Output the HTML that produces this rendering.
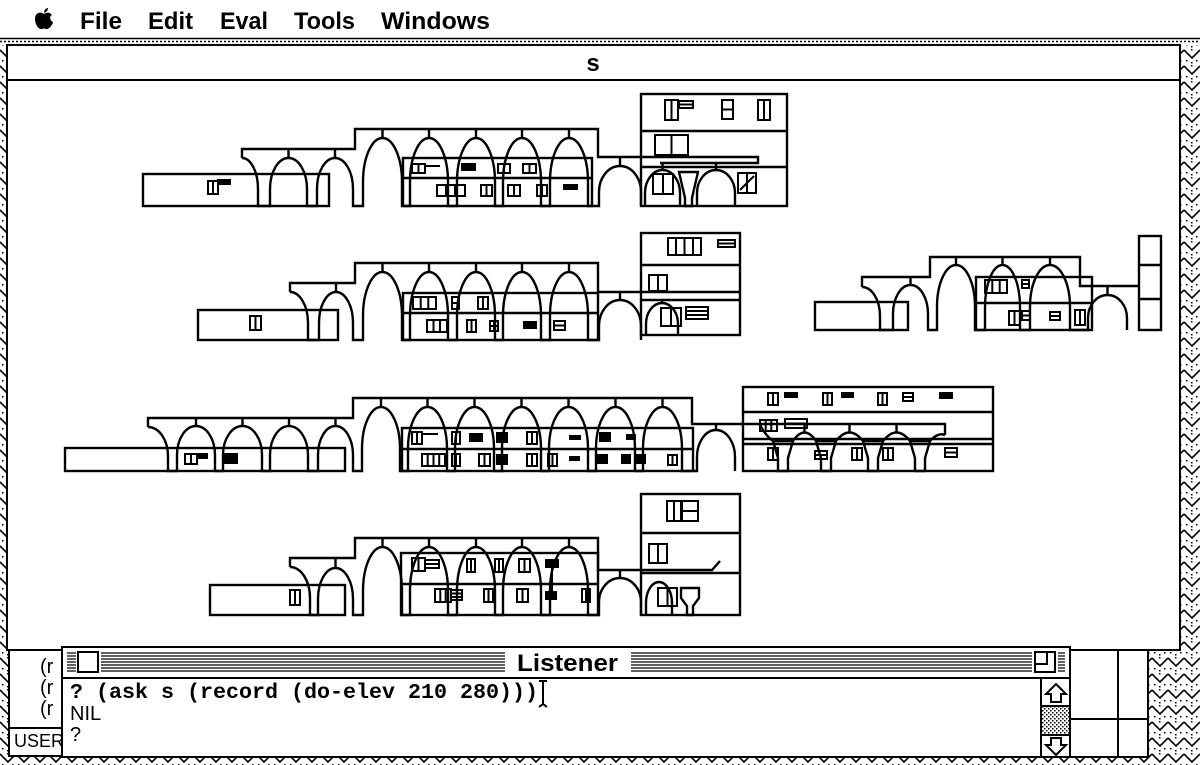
<!DOCTYPE html>
<html><head><meta charset="utf-8"><style>
html,body{margin:0;padding:0;background:#fff;width:1200px;height:765px;overflow:hidden}
svg{display:block}
</style></head><body>
<svg width="1200" height="765" viewBox="0 0 1200 765" xmlns="http://www.w3.org/2000/svg">
<defs>
<pattern id="zz" width="16" height="16" patternUnits="userSpaceOnUse">
<rect width="16" height="16" fill="#fff"/>
<path d="M0,2 L8,10 L16,2" fill="none" stroke="#000" stroke-width="1.6"/>
<rect x="7" y="1" width="1.5" height="1.5"/><rect x="2" y="12" width="1.5" height="1.5"/>
<rect x="12" y="12" width="1.5" height="1.5"/><rect x="7" y="14" width="1.5" height="1.5"/>
</pattern>
<pattern id="gr" width="4" height="4" patternUnits="userSpaceOnUse">
<rect width="4" height="4" fill="#fff"/><rect width="1.5" height="1.5"/><rect x="2" y="2" width="1.5" height="1.5"/>
</pattern>
</defs>

<!-- desktop -->
<rect width="1200" height="765" fill="url(#zz)"/>
<rect width="1200" height="37" fill="#fff"/>
<rect y="37" width="1200" height="8" fill="#fff"/>
<path d="M0,38.5H1200" stroke="#000" stroke-width="1.5"/>
<path d="M0,41.5H1200" stroke="#000" stroke-width="1.5" stroke-dasharray="2 2"/>

<!-- menu -->
<path d="M44,14 C40,11 35,13 35,19 C35,25 39,30 42,29 C43,28.5 45,28.5 46,29 C49,30 53,24 53,22 C50,21 49,16 52,15 C50,12 47,12 44,14 Z M44,13 C44,10 46,8 48,8 C48,11 46,12 44,13 Z" fill="#000"/>
<g font-family="'Liberation Sans', sans-serif" font-weight="bold" font-size="24" fill="#000">
<text x="80" y="29" textLength="42" lengthAdjust="spacingAndGlyphs">File</text>
<text x="148" y="29" textLength="45" lengthAdjust="spacingAndGlyphs">Edit</text>
<text x="220" y="29" textLength="48" lengthAdjust="spacingAndGlyphs">Eval</text>
<text x="294" y="29" textLength="61" lengthAdjust="spacingAndGlyphs">Tools</text>
<text x="381" y="29" textLength="109" lengthAdjust="spacingAndGlyphs">Windows</text>
</g>

<!-- main window -->
<rect x="7" y="45" width="1173" height="605" fill="#fff" stroke="#000" stroke-width="2"/>
<path d="M7,80H1180" stroke="#000" stroke-width="2"/>
<text x="593" y="71" text-anchor="middle" font-family="'Liberation Sans', sans-serif" font-weight="bold" font-size="24">s</text>

<!-- elevations -->
<g fill="none" stroke="#000" stroke-width="2.4">
<!-- E1 -->
<rect x="143" y="174" width="186" height="32"/>
<path d="M242,158 V149 H355 V129 H598 V157 H758 V163 H660"/>
<path d="M242,158 A16,31 0 0 1 258,189 V206 H270 V189 A18.5,31 0 0 1 307,189 V206 H317 V189 A18,31 0 0 1 353,189 V206 H363 V182 A19.5,44 0 0 1 402,182 V206 H410 V182 A19,44 0 0 1 448,182 V206 H457 V182 A19,44 0 0 1 495,182 V206 H503 V182 A19,44 0 0 1 541,182 V206 H550 V182 A19,44 0 0 1 588,182 V206 H599 V192 A21,26 0 0 1 641,192 V206"/>
<path d="M288.5,149V158M335,149V158M382.5,129V138M429,129V138M476,129V138M522,129V138M569,129V138M620,157V166"/>
<rect x="403" y="158" width="189" height="48"/><path d="M403,178H592"/>
<rect x="641" y="94" width="146" height="112"/><path d="M641,131H787M641,167H787"/>
<path d="M645,206 V193 A17.5,23 0 0 1 680,193 V206 M697,206 V193 A19,23 0 0 1 735,193 V206 M662.5,163V170 M716,163V170 M679,172H698L692,198V206H685V198Z"/>

<!-- E2 -->
<rect x="198" y="310" width="140" height="30"/>
<path d="M290,292 V283 H355 V263 H598 V292 H740"/>
<path d="M290,292 A18,31 0 0 1 308,323 V340 H319 V323 A17,31 0 0 1 353,323 V340 H363 V316 A19.5,44 0 0 1 402,316 V340 H410 V316 A19,44 0 0 1 448,316 V340 H457 V316 A19,44 0 0 1 495,316 V340 H503 V316 A19,44 0 0 1 541,316 V340 H550 V316 A19,44 0 0 1 588,316 V340 H599 V326 A21,26 0 0 1 641,326 V340"/>
<path d="M336,283V292M382.5,263V272M429,263V272M476,263V272M522,263V272M569,263V272M620,292V300"/>
<rect x="403" y="293" width="195" height="47"/><path d="M403,313H598"/>
<rect x="641" y="233" width="99" height="102"/><path d="M641,265H740M641,300H740"/>
<path d="M646,335 V324 A16,21 0 0 1 678,324 V335 M662,300V303"/>

<!-- E3 -->
<rect x="815" y="302" width="93" height="28"/>
<path d="M862,287 V277 H930 V257 H1080 V286 H1139"/>
<path d="M862,287 A18,29 0 0 1 880,316 V330 H893 V314 A17.5,29 0 0 1 928,314 V330 H937 V307 A19,42 0 0 1 975,307 V330 H985 V307 A17.5,42 0 0 1 1020,307 V330 H1030 V307 A20,42 0 0 1 1070,307 V330 H1088 V318 A19.5,23 0 0 1 1127,318 V330"/>
<path d="M910.5,277V285M956,257V265M1002.5,257V265M1050,257V265M1107.5,286V295"/>
<rect x="976" y="277" width="116" height="53"/><path d="M976,303H1092"/>
<rect x="1139" y="236" width="22" height="94"/><path d="M1139,265H1161M1139,299H1161"/>

<!-- E4 -->
<rect x="65" y="448" width="280" height="23"/>
<path d="M148,427 V418 H353 V398 H692 V424 H945 V435"/>
<path d="M148,427 A20,29 0 0 1 168,456 V471 H177 V455 A19,29 0 0 1 215,455 V471 H223 V455 A19.5,29 0 0 1 262,455 V471 H270 V455 A19,29 0 0 1 308,455 V471 H318 V455 A17.5,29 0 0 1 353,455 V471 H362 V449 A19,42 0 0 1 400,449 V471 H408 V449 A19.5,42 0 0 1 447,449 V471 H455 V449 A19.5,42 0 0 1 494,449 V471 H502 V449 A19.5,42 0 0 1 541,449 V471 H549 V449 A19.5,42 0 0 1 588,449 V471 H596 V449 A19.5,42 0 0 1 635,449 V471 H643 V449 A19.5,42 0 0 1 682,449 V471 H697 V457 A19,27 0 0 1 735,457 V471"/>
<path d="M196,418V426M242.5,418V426M289,418V426M335.5,418V426M381,398V407M427.5,398V407M474.5,398V407M521.5,398V407M568.5,398V407M615.5,398V407M662.5,398V407M716,424V430"/>
<rect x="402" y="428" width="291" height="43"/><path d="M402,449H693"/>
<rect x="743" y="387" width="250" height="84"/><path d="M743,412H993M743,439H993M743,444H993"/>
<path d="M773,441H793L788,458V471H778V458Z M816,441H836L831,458V471H821V458Z M863,441H883L878,458V471H868V458Z M910,441H930L925,458V471H915V458Z"/>
<path d="M793,441 Q804.5,424 816,441 M836,441 Q849.5,424 863,441 M883,441 Q896.5,424 910,441 M930,441 Q938,432 945,435 M760,425 Q766,436 773,441 M804.5,425V432 M849.5,425V432 M896.5,425V432"/>

<!-- E5 -->
<rect x="210" y="585" width="135" height="30"/>
<path d="M290,567 V558 H355 V538 H598 V570 H712 L720,561"/>
<path d="M290,567 A20,31 0 0 1 310,598 V615 H318 V599 A17.5,31 0 0 1 353,599 V615 H363 V591 A19.5,44 0 0 1 402,591 V615 H410 V591 A19,44 0 0 1 448,591 V615 H457 V591 A19,44 0 0 1 495,591 V615 H503 V591 A19,44 0 0 1 541,591 V615 H550 V591 A19,44 0 0 1 588,591 V615 H599 V602 A21,24 0 0 1 641,602 V615"/>
<path d="M335.5,558V568M382.5,538V547M429,538V547M476,538V547M522,538V547M569,538V547M620,570V578"/>
<rect x="401" y="553" width="197" height="62"/><path d="M401,584H598"/>
<rect x="641" y="494" width="99" height="121"/><path d="M641,533H740M641,573H740"/>
<path d="M646,615 V603 A13,21 0 0 1 672,603 V615 M681,588H699V598L693,606V615H687V606L681,598Z"/>
</g>

<!-- windows -->
<g fill="none" stroke="#000" stroke-width="2">
<!-- E1 -->
<rect x="208" y="181" width="10" height="13"/><path d="M213,181V194"/><rect x="218" y="180" width="12" height="4" fill="#000"/>
<rect x="412" y="164" width="13" height="9"/><path d="M418.5,164V173M425,166H440"/><rect x="462" y="164" width="13" height="6" fill="#000"/><rect x="498" y="164" width="12" height="9"/><path d="M504,164V173"/><rect x="523" y="164" width="13" height="9"/><path d="M529.5,164V173"/>
<rect x="437" y="185" width="28" height="11"/><path d="M446,185V196M455,185V196"/><rect x="481" y="185" width="11" height="11"/><path d="M486.5,185V196"/><rect x="508" y="185" width="12" height="11"/><path d="M514,185V196"/><rect x="537" y="185" width="10" height="11"/><path d="M542,185V196"/><rect x="564" y="185" width="13" height="4" fill="#000"/>
<rect x="665" y="100" width="13" height="20"/><path d="M671.5,100V120"/><rect x="679" y="101" width="14" height="7"/><path d="M679,104.5H693"/><rect x="722" y="100" width="11" height="19"/><path d="M722,109.5H733"/><rect x="758" y="100" width="12" height="20"/><path d="M764,100V120"/>
<rect x="655" y="135" width="33" height="20"/><path d="M671.5,135V155"/>
<rect x="653" y="174" width="20" height="20"/><path d="M663,174V194"/><rect x="738" y="173" width="18" height="20"/><path d="M747,173V193M740,190L754,176"/>
<!-- E2 -->
<rect x="250" y="316" width="11" height="14"/><path d="M255.5,316V330"/>
<rect x="413" y="297" width="23" height="12"/><path d="M420.7,297V309M428.3,297V309"/><rect x="452" y="297" width="7" height="12"/><path d="M452,303H459"/><rect x="478" y="297" width="10" height="12"/><path d="M483,297V309"/>
<rect x="427" y="320" width="20" height="12"/><path d="M433.5,320V332M440,320V332"/><rect x="467" y="320" width="9" height="12"/><path d="M471.5,320V332"/><rect x="490" y="321" width="8" height="10"/><path d="M494,321V331M490,326H498"/><rect x="524" y="322" width="12" height="6" fill="#000"/><rect x="554" y="321" width="11" height="9"/><path d="M554,325.5H565"/>
<rect x="668" y="238" width="33" height="17"/><path d="M676,238V255M684.5,238V255M693,238V255"/><rect x="718" y="240" width="17" height="7"/><path d="M718,243.5H735"/><rect x="649" y="275" width="18" height="16"/><path d="M658,275V291"/><rect x="661" y="308" width="20" height="18"/><path d="M671,308V326"/><rect x="686" y="307" width="22" height="12"/><path d="M686,311H708M686,315H708"/>
<!-- E3 -->
<rect x="985" y="280" width="22" height="13"/><path d="M992.3,280V293M999.7,280V293"/><rect x="1022" y="280" width="7" height="8"/><path d="M1022,284H1029"/><rect x="1009" y="311" width="11" height="14"/><path d="M1014.5,311V325"/><rect x="1022" y="311" width="8" height="9"/><path d="M1022,315.5H1030"/><rect x="1050" y="312" width="10" height="8"/><path d="M1050,316H1060"/><rect x="1075" y="310" width="10" height="15"/><path d="M1080,310V325"/>
<!-- E4 -->
<rect x="185" y="454" width="12" height="10"/><path d="M191,454V464"/><rect x="197" y="454" width="10" height="4" fill="#000"/><rect x="225" y="454" width="12" height="9" fill="#000"/>
<rect x="412" y="432" width="10" height="12"/><path d="M417,432V444M422,434H438"/><rect x="452" y="432" width="8" height="12"/><path d="M456,432V444"/><rect x="470" y="434" width="12" height="7" fill="#000"/><rect x="497" y="433" width="10" height="9" fill="#000"/><rect x="527" y="432" width="10" height="12"/><path d="M532,432V444"/><rect x="570" y="436" width="10" height="3" fill="#000"/><rect x="600" y="433" width="10" height="8" fill="#000"/><rect x="627" y="435" width="8" height="4" fill="#000"/>
<rect x="422" y="454" width="23" height="12"/><path d="M427.7,454V466M433.5,454V466M439.2,454V466"/><rect x="452" y="454" width="8" height="12"/><path d="M456,454V466"/><rect x="479" y="454" width="11" height="12"/><path d="M484.5,454V466"/><rect x="497" y="455" width="10" height="9" fill="#000"/><rect x="527" y="454" width="10" height="12"/><path d="M532,454V466"/><rect x="548" y="454" width="9" height="12"/><path d="M552.5,454V466"/><rect x="570" y="457" width="9" height="3" fill="#000"/><rect x="597" y="455" width="10" height="8" fill="#000"/><rect x="622" y="455" width="8" height="8" fill="#000"/><rect x="637" y="455" width="8" height="8" fill="#000"/><rect x="668" y="455" width="9" height="10"/><path d="M672.5,455V465"/>
<rect x="768" y="393" width="10" height="12"/><path d="M773,393V405"/><rect x="785" y="393" width="12" height="4" fill="#000"/><rect x="823" y="393" width="9" height="12"/><path d="M827.5,393V405"/><rect x="842" y="393" width="11" height="4" fill="#000"/><rect x="878" y="393" width="9" height="12"/><path d="M882.5,393V405"/><rect x="903" y="393" width="10" height="8"/><path d="M903,397H913"/><rect x="940" y="393" width="12" height="5" fill="#000"/>
<rect x="760" y="420" width="17" height="11"/><path d="M765.7,420V431M771.3,420V431"/><rect x="785" y="419" width="22" height="9"/><path d="M785,423.5H807"/>
<rect x="768" y="448" width="10" height="12"/><path d="M773,448V460"/><rect x="815" y="451" width="12" height="8"/><path d="M815,455H827"/><rect x="852" y="448" width="10" height="12"/><path d="M857,448V460"/><rect x="883" y="448" width="10" height="12"/><path d="M888,448V460"/><rect x="945" y="448" width="12" height="9"/><path d="M945,452.5H957"/>
<!-- E5 -->
<rect x="290" y="590" width="10" height="15"/><path d="M295,590V605"/>
<rect x="667" y="501" width="14" height="20"/><path d="M674,501V521"/><rect x="682" y="501" width="16" height="20"/><path d="M682,511H698"/><rect x="649" y="544" width="18" height="19"/><path d="M658,544V563"/><rect x="658" y="588" width="19" height="18"/><path d="M667.5,588V606"/>
<rect x="412" y="558" width="13" height="13"/><path d="M418.5,558V571"/><rect x="425" y="560" width="14" height="8"/><path d="M425,564H439"/><rect x="467" y="559" width="8" height="13"/><path d="M471,559V572"/><rect x="495" y="559" width="8" height="13"/><path d="M499,559V572"/><rect x="519" y="559" width="11" height="13"/><path d="M524.5,559V572"/><rect x="546" y="560" width="12" height="7" fill="#000"/><path d="M552,567V598"/>
<rect x="435" y="589" width="16" height="13"/><path d="M440.3,589V602M445.7,589V602"/><rect x="451" y="590" width="11" height="10"/><path d="M451,593.5H462M451,597H462"/><rect x="484" y="589" width="9" height="13"/><path d="M488.5,589V602"/><rect x="517" y="589" width="11" height="13"/><path d="M522.5,589V602"/><rect x="546" y="592" width="10" height="7" fill="#000"/><rect x="582" y="589" width="8" height="13"/><path d="M586,589V602"/>
</g>

<!-- left background window -->
<rect x="9" y="650" width="53" height="106" fill="#fff" stroke="#000" stroke-width="2"/>
<path d="M9,728H62" stroke="#000" stroke-width="2"/>
<g font-family="'Liberation Sans', sans-serif" font-size="20" fill="#000">
<text x="40" y="673">(r</text>
<text x="40" y="694">(r</text>
<text x="40" y="715">(r</text>
<text x="14" y="747" font-size="18">USER</text>
</g>

<!-- right lower window -->
<rect x="1070" y="650" width="78" height="107" fill="#fff" stroke="#000" stroke-width="2"/>
<path d="M1118,650V757M1070,719H1148" stroke="#000" stroke-width="2"/>

<!-- listener -->
<rect x="62" y="647" width="1008" height="110" fill="#fff" stroke="#000" stroke-width="2"/>
<path d="M67,653H1065M67,656H1065M67,659H1065M67,662H1065M67,665H1065M67,668H1065M67,671H1065" stroke="#000" stroke-width="1.3"/>
<rect x="76" y="650" width="25" height="25" fill="#fff"/>
<rect x="505" y="650" width="126" height="25" fill="#fff"/>
<rect x="1032" y="650" width="26" height="25" fill="#fff"/>
<rect x="78" y="652" width="20" height="20" fill="#fff" stroke="#000" stroke-width="2"/>
<rect x="1035" y="652" width="20" height="20" fill="#fff" stroke="#000" stroke-width="2"/>
<path d="M1035,664H1047V652" fill="none" stroke="#000" stroke-width="2"/>
<text x="517" y="671" textLength="101" lengthAdjust="spacingAndGlyphs" font-family="'Liberation Sans', sans-serif" font-weight="bold" font-size="24">Listener</text>
<path d="M62,678H1070" stroke="#000" stroke-width="2"/>

<!-- scrollbar -->
<path d="M1041,678V757M1041,706H1070M1041,735H1070" stroke="#000" stroke-width="2"/>
<rect x="1042" y="707" width="27" height="27" fill="url(#gr)"/>
<path d="M1056,684 L1066,694 H1061 V702 H1051 V694 H1046 Z" fill="#fff" stroke="#000" stroke-width="2"/>
<path d="M1056,755 L1066,745 H1061 V738 H1051 V745 H1046 Z" fill="#fff" stroke="#000" stroke-width="2"/>

<!-- listener text -->
<text x="70" y="698" textLength="468" lengthAdjust="spacingAndGlyphs" font-family="'Liberation Mono', monospace" font-weight="bold" font-size="21">? (ask s (record (do-elev 210 280)))</text>
<text x="70" y="720" font-family="'Liberation Sans', sans-serif" font-size="20">NIL</text>
<text x="70" y="741" font-family="'Liberation Sans', sans-serif" font-size="20">?</text>
<path d="M539,681H547M543,681V704M539,707L543,704L547,707" fill="none" stroke="#000" stroke-width="2"/>
</svg>
</body></html>
